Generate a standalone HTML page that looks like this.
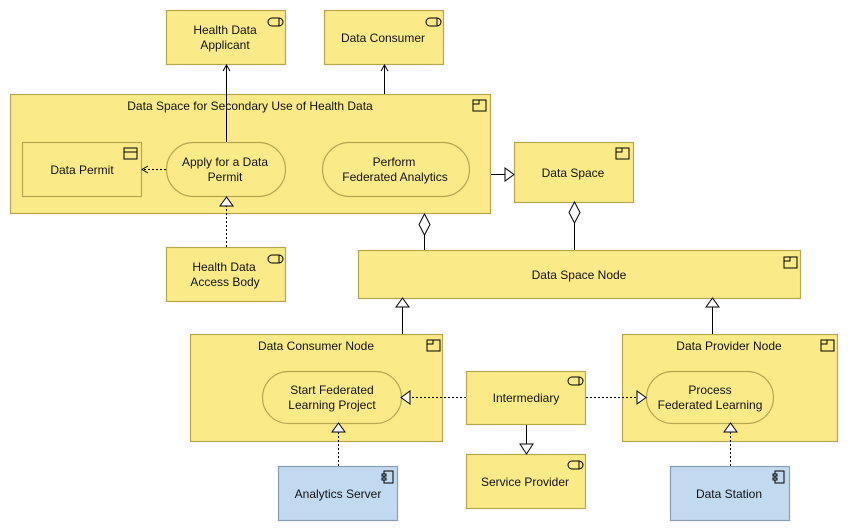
<!DOCTYPE html>
<html><head><meta charset="utf-8"><style>
html,body{margin:0;padding:0;background:#fff;}
svg{display:block;font-family:"Liberation Sans",sans-serif;font-size:12px;}
.y{fill:#fbea88;stroke:#b5a650;stroke-width:1.2;}
.b{fill:#c2daf0;stroke:#8a9db3;stroke-width:1.2;}
.l{stroke:#000;stroke-width:1;fill:none;}
.d{stroke:#000;stroke-width:1;fill:none;stroke-dasharray:2,2;}
.t{fill:#fff;stroke:#000;stroke-width:1;}
.i{fill:none;stroke:#000;stroke-width:1;}
text{fill:#111;text-anchor:middle;}
</style></head><body>
<svg width="849" height="531" viewBox="0 0 849 531">
<defs>
<g id="svc"><rect x="0" y="0" width="15" height="8" rx="4" class="i"/><line x1="11" y1="0" x2="11" y2="8" class="i"/></g>
<g id="grp"><rect x="0" y="0" width="13" height="11" class="i"/><polyline points="0,4 6,4 6,0" class="i"/></g>
<g id="obj"><rect x="0" y="0" width="13" height="11" class="i"/><line x1="0" y1="4" x2="13" y2="4" class="i"/></g>
<g id="cmp"><rect x="2" y="0" width="9" height="12" class="i"/><rect x="0" y="3" width="4" height="2" fill="#c2daf0" stroke="#000"/><rect x="0" y="7" width="4" height="2" fill="#c2daf0" stroke="#000"/></g>
</defs>

<!-- boxes -->
<rect class="y" x="166.5" y="10.5" width="119" height="54"/><use href="#svc" x="268" y="18"/>
<text x="225" y="34">Health Data</text><text x="225" y="49">Applicant</text>
<rect class="y" x="324.5" y="10.5" width="119" height="54"/><use href="#svc" x="426" y="18"/>
<text x="383" y="42">Data Consumer</text>

<rect class="y" x="10.5" y="94.5" width="480" height="119"/><use href="#grp" x="473" y="100"/>
<text x="250" y="110">Data Space for Secondary Use of Health Data</text>
<rect class="y" x="22.5" y="142.5" width="119" height="54"/><use href="#obj" x="124" y="148"/>
<text x="82" y="174">Data Permit</text>
<rect class="y" x="166.5" y="142.5" width="119" height="54" rx="27"/>
<text x="225" y="166">Apply for a Data</text><text x="225" y="181">Permit</text>
<rect class="y" x="322.5" y="142.5" width="147" height="54" rx="27"/>
<text x="394" y="166">Perform</text><text x="395" y="181">Federated Analytics</text>

<rect class="y" x="514.5" y="142.5" width="119" height="60"/><use href="#grp" x="616" y="148"/>
<text x="573" y="177">Data Space</text>

<rect class="y" x="166.5" y="247.5" width="119" height="54"/><use href="#svc" x="268" y="255"/>
<text x="224" y="271">Health Data</text><text x="225" y="286">Access Body</text>

<rect class="y" x="358.5" y="250.5" width="442" height="48"/><use href="#grp" x="784" y="257"/>
<text x="579" y="279">Data Space Node</text>

<rect class="y" x="190.5" y="334.5" width="252" height="107"/><use href="#grp" x="427" y="340"/>
<text x="316" y="350">Data Consumer Node</text>
<rect class="y" x="262.5" y="371.5" width="139" height="52" rx="26"/>
<text x="332" y="394">Start Federated</text><text x="332" y="409">Learning Project</text>

<rect class="y" x="622.5" y="334.5" width="215" height="107"/><use href="#grp" x="821" y="340"/>
<text x="729" y="350">Data Provider Node</text>
<rect class="y" x="646.5" y="371.5" width="127" height="52" rx="26"/>
<text x="710" y="394">Process</text><text x="710" y="409">Federated Learning</text>

<rect class="y" x="466.5" y="371.5" width="119" height="53"/><use href="#svc" x="568" y="377"/>
<text x="526" y="402">Intermediary</text>
<rect class="y" x="466.5" y="454.5" width="119" height="54"/><use href="#svc" x="568" y="461"/>
<text x="525" y="486">Service Provider</text>

<rect class="b" x="278.5" y="466.5" width="119" height="54"/><use href="#cmp" x="382" y="471"/>
<text x="338" y="498">Analytics Server</text>
<rect class="b" x="670.5" y="466.5" width="119" height="54"/><use href="#cmp" x="773" y="471"/>
<text x="729" y="498">Data Station</text>

<!-- connectors -->
<line class="l" x1="226.5" y1="142" x2="226.5" y2="65"/><polyline class="l" points="223,71 226.5,65 230,71"/>
<line class="l" x1="384.5" y1="94" x2="384.5" y2="65"/><polyline class="l" points="381,71 384.5,65 388,71"/>
<line class="d" x1="166" y1="169.5" x2="142" y2="169.5"/><polyline class="l" points="148,166 142,169.5 148,173"/>
<line class="d" x1="226.5" y1="247" x2="226.5" y2="206"/><polygon class="t" points="226.5,197 220,206 233,206"/>
<line class="l" x1="491" y1="174.5" x2="505" y2="174.5"/><polygon class="t" points="514,174.5 505,168 505,181"/>
<line class="l" x1="424.5" y1="250" x2="424.5" y2="235"/><polygon class="t" points="424.5,214 419,224.5 424.5,235 430,224.5"/>
<line class="l" x1="574.5" y1="250" x2="574.5" y2="223"/><polygon class="t" points="574.5,202 569,212.5 574.5,223 580,212.5"/>
<line class="l" x1="402.5" y1="334" x2="402.5" y2="307"/><polygon class="t" points="402.5,298 396,307 409,307"/>
<line class="l" x1="712.5" y1="334" x2="712.5" y2="307"/><polygon class="t" points="712.5,298 706,307 719,307"/>
<line class="d" x1="466" y1="397.5" x2="410" y2="397.5"/><polygon class="t" points="401,397.5 410,391 410,404"/>
<line class="d" x1="586" y1="397.5" x2="637" y2="397.5"/><polygon class="t" points="646,397.5 637,391 637,404"/>
<line class="l" x1="526.5" y1="425" x2="526.5" y2="444"/><polygon class="t" points="526.5,454 520,444 533,444"/>
<line class="d" x1="338.5" y1="466" x2="338.5" y2="432"/><polygon class="t" points="338.5,423 332,432 345,432"/>
<line class="d" x1="730.5" y1="466" x2="730.5" y2="432"/><polygon class="t" points="730.5,423 724,432 737,432"/>
</svg>
</body></html>
